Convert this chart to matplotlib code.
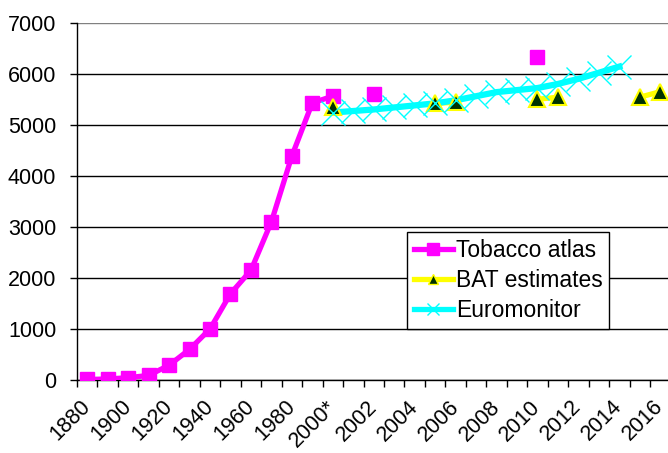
import matplotlib.pyplot as plt
from matplotlib.lines import Line2D
import numpy as np

plt.rcParams['font.family'] = ['Liberation Sans', 'DejaVu Sans']

# categories: decades up to 1990, then yearly from 2000
categories = [str(y) for y in range(1880, 2000, 10)] + ['2000*'] + [str(y) for y in range(2001, 2017)]
tick_labels = [c if i % 2 == 0 else '' for i, c in enumerate(categories)]

nan = np.nan
tobacco_atlas = [10, 20, 45, 90, 290, 600, 1000, 1690, 2150, 3100, 4390, 5430,
                 5560, nan, 5600, nan, nan, nan, nan, nan, nan, nan, 6320,
                 nan, nan, nan, nan, nan, nan]
bat_estimates = [nan] * 12 + [5350, nan, nan, nan, nan, 5420, 5440, nan, nan, nan,
                              5500, 5540, nan, nan, nan, 5540, 5650]
euromonitor = [nan] * 12 + [5240, 5270, 5300, 5340, 5380, 5420, 5480, 5560, 5640,
                            5680, 5720, 5800, 5900, 6020, 6140, nan, nan]

x = np.arange(len(categories))

fig = plt.figure(figsize=(6.68, 4.53), dpi=100, facecolor='white')
ax = fig.add_axes([77 / 668, 73 / 453, 593.5 / 668, 357.3 / 453])

# lines first, markers on top (like the spreadsheet chart)
ax.plot(x, tobacco_atlas, color='#FF00FF', lw=3.8, zorder=3)
ax.plot(x, bat_estimates, color='#FFFF00', lw=3.8, zorder=3)
ax.plot(x, euromonitor, color='#00FFFF', lw=4.5, zorder=3)

ax.plot(x, tobacco_atlas, ls='none', marker='s', ms=10, color='#FF00FF', zorder=4)
ax.plot(x, bat_estimates, ls='none', marker='^', ms=11, mfc='#003300',
        mec='#FFFF00', mew=1.5, zorder=5)
ax.plot(x, euromonitor, ls='none', marker='x', ms=17, mew=1.0, color='#00FFFF', zorder=6)

ax.set_xlim(-0.5, len(categories) - 0.5)
ax.set_ylim(0, 7000)
ax.set_yticks(np.arange(0, 7001, 1000))
ax.set_xticks(np.arange(-0.5, len(categories), 1.0), minor=False)
ax.set_xticklabels([])
ax.set_xticks(x, minor=True)
ax.set_xticklabels(tick_labels, minor=True, rotation=45, ha='right', va='center',
                   rotation_mode='anchor', fontsize=15.5)
ax.tick_params(axis='x', which='minor', length=0, pad=17)
ax.tick_params(axis='x', which='major', length=5, width=1, direction='out')
ax.tick_params(axis='y', length=5, width=1, labelsize=15.5, pad=10)

ax.grid(axis='y', color='black', lw=1)
ax.get_ygridlines()[-1].set_color('#808080')
ax.set_axisbelow(True)
for s in ['top', 'right']:
    ax.spines[s].set_visible(False)
ax.spines['left'].set_linewidth(1)
ax.spines['bottom'].set_linewidth(1)

handles = [
    Line2D([], [], color='#FF00FF', lw=3.8, marker='s', ms=8),
    Line2D([], [], color='#FFFF00', lw=3.8, marker='^', ms=7, mfc='#003300', mec='#FFFF00'),
    Line2D([], [], color='#00FFFF', lw=3.8, marker='x', ms=8, mew=1),
]
leg = fig.legend(handles, ['Tobacco atlas', 'BAT estimates', 'Euromonitor'],
                 loc='upper left', bbox_to_anchor=(407 / 668, 1 - 232 / 453),
                 fontsize=16.5, frameon=True, fancybox=False, edgecolor='black',
                 framealpha=1, handlelength=1.7, handletextpad=0.13,
                 labelspacing=0.3, borderpad=0.3, borderaxespad=0)
leg.get_frame().set_linewidth(1)

fig.savefig('out.png', dpi=100, facecolor='white')
